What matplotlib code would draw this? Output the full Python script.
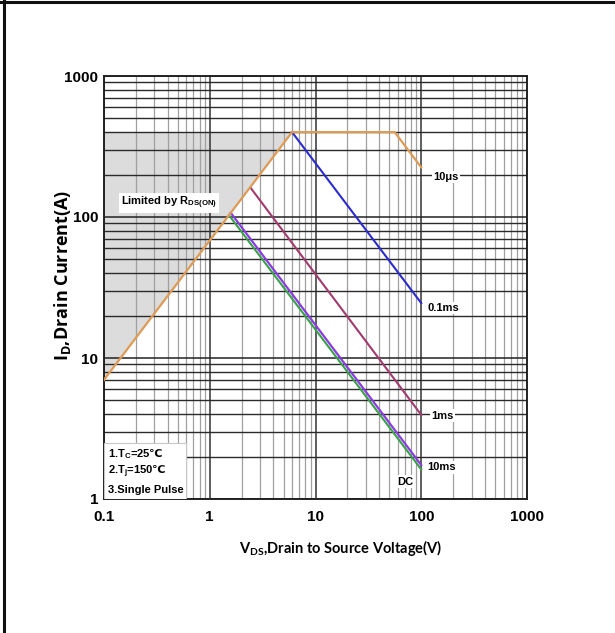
import matplotlib
matplotlib.use('Agg')
import matplotlib.pyplot as plt
from matplotlib.lines import Line2D
from matplotlib.patches import Rectangle
from matplotlib.ticker import LogLocator, NullFormatter

plt.rcParams['mathtext.default'] = 'regular'
plt.rcParams['mathtext.fontset'] = 'custom'
plt.rcParams['mathtext.rm'] = 'DejaVu Sans:bold'

# ---------------- data ----------------
x_ticks = [0.1, 1, 10, 100, 1000]
x_tick_labels = ['0.1', '1', '10', '100', '1000']
y_ticks = [1, 10, 100, 1000]
y_tick_labels = ['1', '10', '100', '1000']

limit_10us_v = [0.1, 6.0, 56, 100]
limit_10us_i = [7, 400, 400, 225]
curve_01ms_v = [6.0, 100]
curve_01ms_i = [400, 24.5]
curve_1ms_v = [2.45, 100]
curve_1ms_i = [160, 3.95]
curve_10ms_v = [1.58, 100]
curve_10ms_i = [107, 1.74]
curve_dc_v = [1.52, 100]
curve_dc_i = [103, 1.62]
shade_v = [0.1, 6.0, 0.1]
shade_i = [7, 400, 400]

notes = ['1.T$_{C}$=25$\\mathrm{\u2103}$', '2.T$_{j}$=150$\\mathrm{\u2103}$', '3.Single Pulse']

# ---------------- figure ----------------
W, H = 615, 633
fig = plt.figure(figsize=(W / 100, H / 100), dpi=100)
ax = fig.add_axes([104 / W, 1 - 499 / H, 423 / W, 423 / H])

tick_font = ['Liberation Sans Narrow', 'Liberation Sans', 'DejaVu Sans']
small_font = ['Liberation Sans', 'DejaVu Sans']
ylab_font = ['Open Sans', 'DejaVu Sans']
xlab_font = ['Lato', 'DejaVu Sans']

ax.set_xscale('log')
ax.set_yscale('log')
ax.set_xlim(0.1, 1000)
ax.set_ylim(1, 1000)

ax.set_axisbelow(True)
ax.xaxis.set_minor_locator(LogLocator(base=10, subs=range(2, 10), numticks=20))
ax.yaxis.set_minor_locator(LogLocator(base=10, subs=range(2, 10), numticks=20))
ax.xaxis.set_minor_formatter(NullFormatter())
ax.yaxis.set_minor_formatter(NullFormatter())
ax.xaxis.grid(True, which='major', color='#333333', lw=1.1)
ax.xaxis.grid(True, which='minor', color='#a0a0a0', lw=0.9)
ax.yaxis.grid(True, which='major', color='#222222', lw=1.1)
ax.yaxis.grid(True, which='minor', color='#2a2a2a', lw=1.0)

ax.set_xticks(x_ticks)
ax.set_xticklabels(x_tick_labels)
ax.set_yticks(y_ticks)
ax.set_yticklabels(y_tick_labels)
ax.tick_params(which='both', length=0)
ax.tick_params(axis='x', pad=8)
ax.tick_params(axis='y', pad=4)
for lab in ax.get_xticklabels() + ax.get_yticklabels():
    lab.set_fontfamily(tick_font)
    lab.set_fontweight('bold')
    lab.set_fontsize(11)

for sp in ax.spines.values():
    sp.set_linewidth(1.4)
    sp.set_color('#222222')

# shaded Rds(on) limited area
ax.fill(shade_v, shade_i, color='#dcdcdc', zorder=0.2, lw=0)

ax.plot(curve_dc_v, curve_dc_i, color='#3aa04a', lw=1.5, zorder=3)
ax.plot(curve_10ms_v, curve_10ms_i, color='#8a3ce0', lw=1.6, zorder=3.1)
ax.plot(curve_1ms_v, curve_1ms_i, color='#a23a6e', lw=1.5, zorder=3)
ax.plot(curve_01ms_v, curve_01ms_i, color='#2b2bd0', lw=1.5, zorder=3)
ax.plot(limit_10us_v, limit_10us_i, color='#de9b55', lw=1.6, zorder=3.2)

bb = dict(facecolor='white', edgecolor='none', pad=1.0)
tk = dict(fontfamily=small_font, fontweight='bold', fontsize=8, zorder=5)
ax.text(129, 192, '10\u03bcs', ha='left', va='center', bbox=bb, **tk)
ax.text(115, 22.6, '0.1ms', ha='left', va='center', bbox=bb, **tk)
ax.text(124, 3.9, '1ms', ha='left', va='center', bbox=bb, **tk)
ax.text(113, 1.68, '10ms', ha='left', va='center', bbox=bb, **tk)
ax.text(70, 1.33, 'DC', ha='center', va='center', bbox=bb, **tk)
ax.text(0.145, 126, 'Limited by R$_{\\mathregular{DS(ON)}}$', ha='left', va='center',
        bbox=dict(facecolor='white', edgecolor='none', pad=1.5), **tk)

# notes box
ax.add_patch(Rectangle((0, 0), 82 / 423, 56 / 423, transform=ax.transAxes,
                       facecolor='white', edgecolor='#c8c8c8', lw=0.8, zorder=4))
for k, s in enumerate(notes):
    ax.text(4 / 423, (45 - k * 18) / 423, s, transform=ax.transAxes,
            ha='left', va='center', fontfamily=small_font, fontweight='bold',
            fontsize=8, zorder=5)

fig.text(341 / W, 1 - 548 / H, 'V$_{DS}$,Drain to Source Voltage(V)', fontfamily=xlab_font,
         fontweight='bold', fontsize=10.5, ha='center', va='center')
fig.text(63 / W, 1 - 275 / H, 'I$_{D}$,Drain Current(A)', fontfamily=ylab_font,
         fontweight='bold', fontsize=13, ha='center', va='center', rotation=90)

# outer frame (top and left)
fig.add_artist(Line2D([0, 1], [1 - 1.5 / H, 1 - 1.5 / H], transform=fig.transFigure,
                      color='#111111', lw=2.2))
fig.add_artist(Line2D([4 / W, 4 / W], [0, 1], transform=fig.transFigure,
                      color='#111111', lw=2.2))

fig.savefig('out.png', dpi=100)
